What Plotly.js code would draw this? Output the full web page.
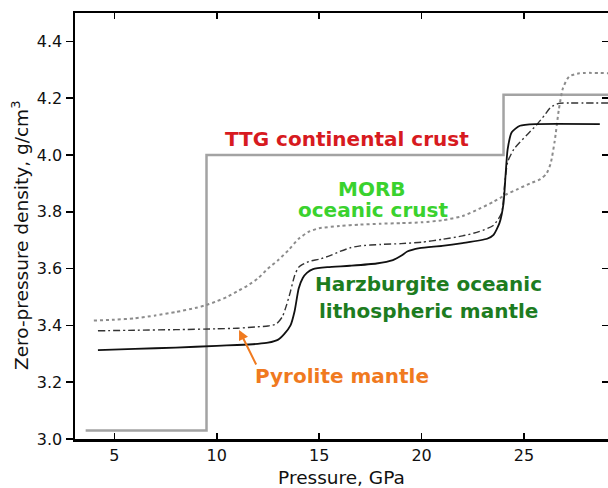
<!DOCTYPE html>
<html>
<head>
<meta charset="utf-8">
<script src="https://cdn.plot.ly/plotly-3.0.1.min.js"></script>
<style>html,body{margin:0;padding:0;background:#fff;}#chart{width:608px;height:488px;}</style>
</head>
<body>
<div id="chart"></div>
<script>
// Pressure (GPa) and zero-pressure density (g/cm^3)
var ttgP = [3.6, 9.5, 9.5, 24.0, 24.0, 29.2];
var ttgRho = [3.03, 3.03, 4.0, 4.0, 4.212, 4.212];

var morbP = [4.0, 5, 6, 7, 8, 9, 9.5, 10, 10.5, 11, 11.5, 12, 12.5, 13, 13.5, 14, 14.5, 15, 16, 17, 18, 19, 20, 21, 22, 22.8, 23.5, 24.1, 24.7, 25.3, 25.8, 26.1, 26.3, 26.5, 26.7, 26.9, 27.2, 27.7, 29.1];
var morbRho = [3.417, 3.42, 3.425, 3.435, 3.447, 3.462, 3.472, 3.485, 3.50, 3.52, 3.54, 3.565, 3.60, 3.63, 3.665, 3.705, 3.73, 3.742, 3.75, 3.755, 3.758, 3.76, 3.763, 3.77, 3.785, 3.81, 3.835, 3.86, 3.88, 3.90, 3.915, 3.935, 3.97, 4.05, 4.16, 4.235, 4.276, 4.288, 4.288];

var pyroP = [4.2, 6, 8, 10, 11, 12, 12.5, 12.9, 13.2, 13.4, 13.6, 13.8, 14.0, 14.5, 15.0, 15.5, 16.0, 16.5, 17, 18, 19, 20, 21, 22, 22.8, 23.5, 23.9, 24.06, 24.2, 24.5, 24.8, 25.2, 25.6, 26.0, 26.3, 26.7, 27.2, 29.1];
var pyroRho = [3.381, 3.383, 3.385, 3.388, 3.39, 3.395, 3.398, 3.405, 3.43, 3.47, 3.52, 3.575, 3.605, 3.625, 3.633, 3.645, 3.66, 3.673, 3.68, 3.685, 3.688, 3.693, 3.703, 3.715, 3.73, 3.752, 3.795, 3.90, 3.975, 4.02, 4.045, 4.075, 4.105, 4.14, 4.168, 4.182, 4.183, 4.183];

var harzP = [4.2, 6, 8, 10, 11, 12, 12.5, 13.0, 13.3, 13.6, 13.8, 14.0, 14.2, 14.4, 14.7, 15.4, 16.5, 17.8, 18.6, 19.0, 19.3, 19.9, 21, 22, 23.2, 23.5, 23.8, 24.0, 24.1, 24.2, 24.4, 24.8, 25.6, 28.7];
var harzRho = [3.313, 3.317, 3.322, 3.328, 3.331, 3.335, 3.339, 3.35, 3.37, 3.40, 3.45, 3.53, 3.567, 3.585, 3.598, 3.605, 3.61, 3.618, 3.63, 3.645, 3.66, 3.672, 3.68, 3.69, 3.705, 3.718, 3.76, 3.83, 3.93, 4.02, 4.08, 4.103, 4.109, 4.109];

var xTicks = [5, 10, 15, 20, 25];
var yTicks = [3.0, 3.2, 3.4, 3.6, 3.8, 4.0, 4.2, 4.4];

var labels = [
  {text: "TTG continental crust", x: 16.35, y: 4.056, color: "#d71a20"},
  {text: "MORB", x: 17.6, y: 3.88, color: "#3ad22e"},
  {text: "oceanic crust", x: 17.65, y: 3.805, color: "#3ad22e"},
  {text: "Harzburgite oceanic", x: 20.35, y: 3.546, color: "#1d7c1f"},
  {text: "lithospheric mantle", x: 20.33, y: 3.451, color: "#1d7c1f"},
  {text: "Pyrolite mantle", x: 16.09, y: 3.222, color: "#f07a1f"}
];
var arrowTip = {x: 11.09, y: 3.384};
var arrowTail = {x: 11.96, y: 3.257};
var yTitle = "Zero-pressure density, g/cm<sup>3</sup>";
var xTitle = "Pressure, GPa";

var FONT = "DejaVu Sans, Verdana, sans-serif";

var traces = [
  {x: ttgP, y: ttgRho, mode: "lines", line: {color: "#a3a3a3", width: 2.5}, name: "TTG"},
  {x: morbP, y: morbRho, mode: "lines", line: {color: "#8c8c8c", width: 2, dash: "dot", shape: "spline", smoothing: 0.6}, name: "MORB"},
  {x: pyroP, y: pyroRho, mode: "lines", line: {color: "#333333", width: 1.4, dash: "7px,3px,2px,3px", shape: "spline", smoothing: 0.6}, name: "Pyrolite"},
  {x: harzP, y: harzRho, mode: "lines", line: {color: "#111111", width: 1.8, shape: "spline", smoothing: 0.6}, name: "Harzburgite"},
  {x: [5], y: [3.0], yaxis: "y2", mode: "markers", marker: {opacity: 0}, hoverinfo: "skip", showlegend: false}
];

var annotations = labels.map(function (l) {
  return {text: "<b>" + l.text + "</b>", x: l.x, y: l.y, xref: "x", yref: "y", showarrow: false,
    xanchor: "center", yanchor: "middle", font: {family: FONT, size: 20, color: l.color}};
});
annotations.push({text: "", x: arrowTip.x, y: arrowTip.y, ax: arrowTail.x, ay: arrowTail.y,
  xref: "x", yref: "y", axref: "x", ayref: "y", showarrow: true, arrowhead: 2, arrowsize: 1,
  arrowwidth: 2, arrowcolor: "#f07a1f", standoff: 0, startstandoff: 0});
annotations.push({text: yTitle, textangle: -90, xref: "paper", yref: "paper", x: -0.102, y: 0.478,
  xanchor: "center", yanchor: "middle", showarrow: false, font: {family: FONT, size: 18.5, color: "#111"}});

var layout = {
  width: 608, height: 488,
  margin: {l: 75, r: 0, t: 13, b: 49},
  paper_bgcolor: "#ffffff", plot_bgcolor: "#ffffff",
  showlegend: false,
  font: {family: FONT, color: "#111"},
  xaxis: {
    range: [3.08, 29.1], tickvals: xTicks, ticktext: xTicks.map(String),
    ticks: "inside", ticklen: 6, tickwidth: 1.5, tickcolor: "#000",
    showline: true, linecolor: "#000", linewidth: 2.5, mirror: "ticks",
    showgrid: false, zeroline: false,
    tickfont: {family: FONT, size: 16, color: "#111"},
    title: {text: xTitle, font: {family: FONT, size: 18.5, color: "#111"}, standoff: 8}
  },
  yaxis: {
    range: [3.0, 4.5], tickvals: yTicks, ticktext: yTicks.map(function (v) { return v.toFixed(1); }),
    ticks: "outside", ticklen: 7, tickwidth: 1.5, tickcolor: "#000",
    showline: true, linecolor: "#000", linewidth: 2.5,
    showgrid: false, zeroline: false,
    tickfont: {family: FONT, size: 16, color: "#111"}
  },
  yaxis2: {
    overlaying: "y", side: "right", range: [3.0, 4.5], tickvals: yTicks,
    ticks: "inside", ticklen: 6, tickwidth: 1.5, tickcolor: "#000",
    showticklabels: false, showline: false, showgrid: false, zeroline: false
  },
  annotations: annotations
};

Plotly.newPlot("chart", traces, layout, {displayModeBar: false, staticPlot: true});
</script>
</body>
</html>
